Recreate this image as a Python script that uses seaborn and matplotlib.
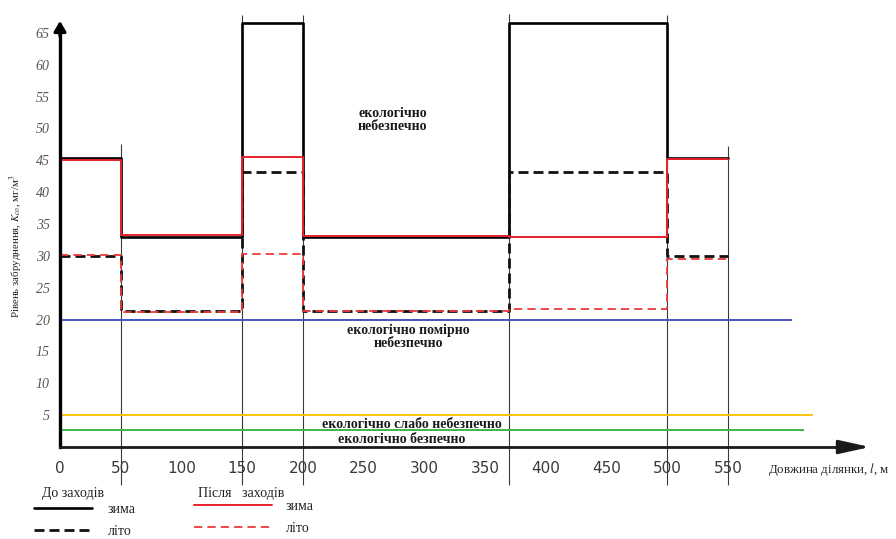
import matplotlib
matplotlib.use("Agg")
import matplotlib.pyplot as plt
import pandas as pd
import seaborn as sns
from matplotlib.ticker import FixedLocator

# Section boundaries along the route, m
boundaries = [0, 50, 150, 200, 370, 500, 550]

# CO concentration on each section, mg/m3
winter_before = [45.4, 33.0, 66.6, 33.0, 66.6, 45.4]
summer_before = [30.0, 21.3, 43.2, 21.3, 43.2, 30.0]
winter_after = [45.1, 33.3, 45.5, 33.1, 33.0, 45.2]
summer_after = [30.2, 21.2, 30.3, 21.3, 21.6, 29.5]

# Hazard thresholds, mg/m3
threshold_levels = [20, 5, 2.6]
threshold_ends = [603, 620, 613]
threshold_colors = ["#4453c4", "#ffc20e", "#3db54a"]

# Axis ticks
x_labels = [0, 50, 100, 150, 200, 250, 300, 350, 400, 450, 500, 550]
x_marks = [100, 250, 300, 350, 400, 450, 600]
y_labels = [5, 10, 15, 20, 25, 30, 35, 40, 45, 50, 55, 60, 65]
y_marks = list(range(1, 67))

zone_labels = ["екологічно\nнебезпечно", "екологічно помірно\nнебезпечно",
               "екологічно слабо небезпечно", "екологічно безпечно"]

sns.set_style("white")
plt.rcParams["font.family"] = ["Liberation Serif", "DejaVu Serif"]
plt.rcParams["mathtext.fontset"] = "stix"

fig = plt.figure(figsize=(8.96, 5.39), dpi=100)
ax = fig.add_axes([0, 0, 1, 1])
ax.set_xlim(-49.4, 688.4)
ax.set_ylim(-14.44, 70.17)


def steps(values):
    return pd.DataFrame({"x": boundaries, "y": list(values) + [values[-1]]})


# thin section dividers
div_top = [47.5, 67.8, 67.8, 67.9, 67.8, 47.2]
ax.vlines(boundaries[1:], [-6.0] * 6, div_top, colors="#3a3a3a", lw=0.8, zorder=2)

# hazard thresholds
for lvl, end, col in zip(threshold_levels, threshold_ends, threshold_colors):
    ax.hlines(lvl, 0, end, colors=col, lw=1.4, zorder=2)

common = dict(x="x", y="y", drawstyle="steps-post", legend=False, ax=ax)
sns.lineplot(data=steps(winter_before), color="black", lw=1.9, zorder=3, **common)
l_wb = ax.lines[-1]
sns.lineplot(data=steps(summer_before), color="#111111", lw=2.0,
             linestyle=(0, (3.6, 1.8)), zorder=3, **common)
l_sb = ax.lines[-1]
sns.lineplot(data=steps(winter_after), color="#e8202a", lw=1.4, zorder=4, **common)
l_wa = ax.lines[-1]
sns.lineplot(data=steps(summer_after), color="#ee3a3a", lw=1.3,
             linestyle=(0, (4.6, 2.8)), zorder=4, **common)
l_sa = ax.lines[-1]
ax.set_xlabel("")
ax.set_ylabel("")

# axes drawn through the origin
for side in ["top", "right"]:
    ax.spines[side].set_visible(False)
ax.spines["bottom"].set_position(("data", 0))
ax.spines["left"].set_position(("data", 0))
ax.spines["bottom"].set_bounds(0, 650)
ax.spines["left"].set_bounds(0, 66)
ax.spines["bottom"].set_linewidth(2.0)
ax.spines["left"].set_linewidth(2.4)
ax.spines["bottom"].set_color("#1a1a1a")
ax.spines["left"].set_color("black")
ax.spines["bottom"].set_zorder(5)
ax.spines["left"].set_zorder(5)

ax.annotate("", xy=(667, 0), xytext=(640, 0),
            arrowprops=dict(arrowstyle="-|>,head_length=1.9,head_width=0.42",
                            color="#1a1a1a", lw=2.0, shrinkA=0, shrinkB=0))
ax.annotate("", xy=(0, 66.9), xytext=(0, 64.5),
            arrowprops=dict(arrowstyle="-|>,head_length=0.6,head_width=0.35",
                            color="black", lw=2.4, shrinkA=0, shrinkB=0))

ax.xaxis.remove_overlapping_locs = False
ax.yaxis.remove_overlapping_locs = False
ax.xaxis.set_major_locator(FixedLocator(x_labels))
ax.xaxis.set_minor_locator(FixedLocator(x_marks))
ax.set_xticklabels([str(v) for v in x_labels])
ax.tick_params(axis="x", which="major", length=0, pad=10, labelsize=11,
               labelcolor="#3a3a3a")
ax.tick_params(axis="x", which="minor", direction="inout", length=16,
               width=0.8, color="#777777")
for t in ax.get_xticklabels():
    t.set_family("DejaVu Sans")

ax.yaxis.set_major_locator(FixedLocator(y_labels))
ax.yaxis.set_minor_locator(FixedLocator(y_marks))
ax.set_yticklabels([str(v) for v in y_labels])
ax.tick_params(axis="y", which="both", direction="inout", length=17,
               width=1.0, color="#555555")
ax.tick_params(axis="y", which="major", pad=-1, labelsize=10,
               labelcolor="#555555")
for t in ax.get_yticklabels():
    t.set_fontstyle("italic")

# zone annotations
zone_pos = [(274, 51.3), (286.5, 17.3), (290, 3.6), (281.6, 1.25)]
for txt, (zx, zy) in zip(zone_labels, zone_pos):
    ax.text(zx, zy, txt, ha="center", va="center", fontsize=10,
            fontweight="bold", color="#1a1a1a", linespacing=1.05, zorder=6)

fig.text(16 / 896, 1 - 246 / 539, "Рівень забруднення, $K_{co}$, мг/м$^3$",
         rotation=90, ha="center", va="center", fontsize=7.8, color="#222222")
fig.text(768 / 896, 1 - 470 / 539, "Довжина ділянки, $l$, м",
         ha="left", va="center", fontsize=9.3, color="#222222")

# legend: before / after the measures
fig.text(42 / 896, 1 - 493 / 539, "До заходів", ha="left", va="center",
         fontsize=10, color="#222222")
fig.text(198 / 896, 1 - 493 / 539, "Після   заходів", ha="left", va="center",
         fontsize=10, color="#222222")
leg_kw = dict(frameon=False, loc="upper left", borderpad=0, borderaxespad=0,
              fontsize=10, labelspacing=0.66, labelcolor="#222222")
leg1 = fig.legend([l_wb, l_sb], ["зима", "літо"],
                  bbox_to_anchor=(34 / 896, 1 - 503 / 539),
                  handlelength=4.2, handletextpad=1.1, **leg_kw)
leg2 = fig.legend([l_wa, l_sa], ["зима", "літо"],
                  bbox_to_anchor=(194 / 896, 1 - 500 / 539),
                  handlelength=5.6, handletextpad=1.0, **leg_kw)

fig.savefig("out.png", dpi=100)
